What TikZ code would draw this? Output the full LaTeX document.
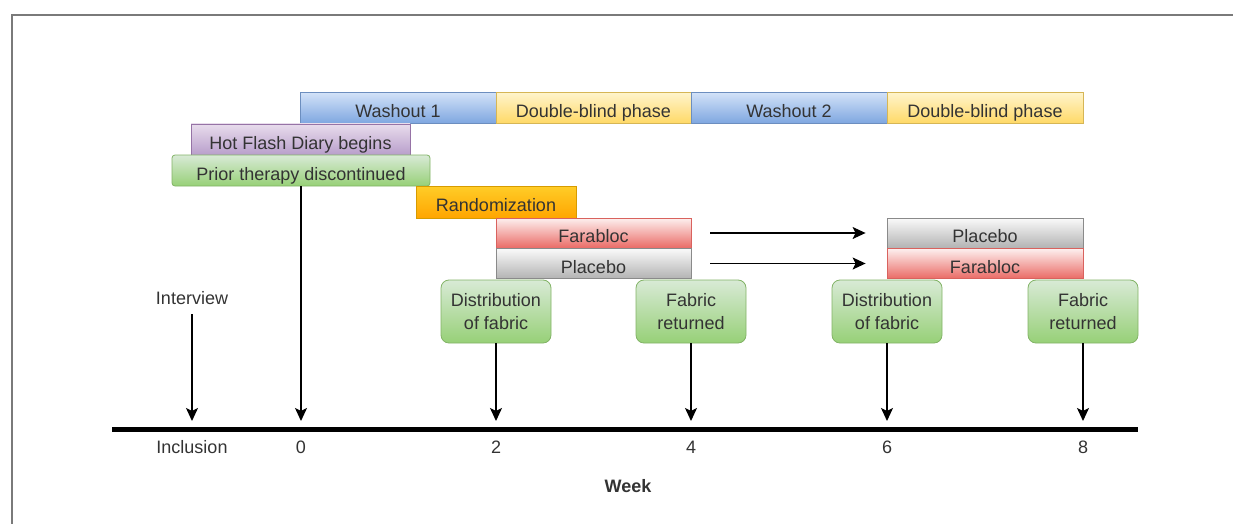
\documentclass[tikz,border=0pt]{standalone}
\usepackage{fontspec}
\setmainfont{Liberation Sans}
\usetikzlibrary{arrows.meta}

\definecolor{txt}{HTML}{333333}
\definecolor{frame}{HTML}{7A7A7A}
\definecolor{blueT}{HTML}{D2E2F8}\definecolor{blueB}{HTML}{7EA6E0}\definecolor{blueD}{HTML}{6C8EBF}
\definecolor{yelT}{HTML}{FFF4CC}\definecolor{yelB}{HTML}{FFD966}\definecolor{yelD}{HTML}{D6B656}
\definecolor{purT}{HTML}{E8DCEC}\definecolor{purB}{HTML}{B89ECB}\definecolor{purD}{HTML}{9673A6}
\definecolor{grnT}{HTML}{D8EAD6}\definecolor{grnB}{HTML}{97D077}\definecolor{grnD}{HTML}{82B366}
\definecolor{orgT}{HTML}{FFCD28}\definecolor{orgB}{HTML}{FFA500}\definecolor{orgD}{HTML}{D79B00}
\definecolor{redT}{HTML}{FDF0EF}\definecolor{redB}{HTML}{EA6B66}\definecolor{redD}{HTML}{D9625E}
\definecolor{gryT}{HTML}{FAFAFA}\definecolor{gryB}{HTML}{B3B3B3}\definecolor{gryD}{HTML}{8A8A8A}

\tikzset{
  bar/.style={draw, line width=0.8pt, inner sep=0pt, minimum height=31pt,
              text height=19pt, text depth=0pt},
  blueshade/.style={top color=blueT, bottom color=blueB, draw=blueD},
  yelshade/.style={top color=yelT, bottom color=yelB, draw=yelD},
  purshade/.style={top color=purT, bottom color=purB, draw=purD},
  grnshade/.style={top color=grnT, bottom color=grnB, draw=grnD},
  orgshade/.style={top color=orgT, bottom color=orgB, draw=orgD},
  redshade/.style={top color=redT, bottom color=redB, draw=redD},
  gryshade/.style={top color=gryT, bottom color=gryB, draw=gryD},
  fabricbox/.style={draw, line width=0.8pt, inner sep=0pt, grnshade, rounded corners=8pt,
                    minimum width=110pt, minimum height=63pt, align=center},
  tip/.style={-{Stealth[length=13pt,width=12pt,inset=3pt]}, line width=1.3pt, black}
}

\begin{document}
\begin{tikzpicture}[x=1pt, y=-1pt, font=\fontsize{18}{23}\selectfont, text=txt]
  \useasboundingbox (0,0) rectangle (1233,524);
  % frame of the screenshot
  \draw[frame, line width=2pt] (12,524) -- (12,15) -- (1233,15);

  % phases
  \node[bar, blueshade, minimum width=196pt] (wash1) at (398,108) {Washout 1};
  \node[bar, yelshade, minimum width=195pt] (dbp1) at (593.5,108) {Double-blind phase};
  \node[bar, blueshade, minimum width=196pt] (wash2) at (789,108) {Washout 2};
  \node[bar, yelshade, minimum width=196pt] (dbp2) at (985,108) {Double-blind phase};
  \node[bar, purshade, minimum width=219pt] (diary) at (300.5,139.5) {Hot Flash Diary begins};
  \node[bar, grnshade, rounded corners=3pt, minimum width=258pt] (prior) at (301,170.5) {Prior therapy discontinued};
  \node[bar, orgshade, minimum width=160pt, minimum height=32pt] (rand) at (496,202) {Randomization};

  % treatment arms
  \node[bar, redshade, minimum width=195pt, minimum height=30pt] (fara1) at (593.5,233) {Farabloc};
  \node[bar, gryshade, minimum width=195pt, minimum height=30pt] (plac1) at (593.5,263.5) {Placebo};
  \node[bar, gryshade, minimum width=196pt, minimum height=30pt] (plac2) at (985,233) {Placebo};
  \node[bar, redshade, minimum width=196pt, minimum height=30pt] (fara2) at (985,263.5) {Farabloc};
  \draw[tip] ([xshift=19pt]fara1.east) -- ([xshift=-21pt]plac2.west);
  \draw[tip] ([xshift=19pt]plac1.east) -- ([xshift=-21pt]fara2.west);

  % fabric events
  \node[fabricbox] (dist1) at (496,311.5) {Distribution\\of fabric};
  \node[fabricbox] (ret1) at (691,311.5) {Fabric\\returned};
  \node[fabricbox] (dist2) at (887,311.5) {Distribution\\of fabric};
  \node[fabricbox] (ret2) at (1083,311.5) {Fabric\\returned};
  \node (interview) at (192,298) {Interview};

  % time axis
  \draw[line width=5pt] (112,429) -- (1138,429);
  \foreach \n/\x/\lbl in {inc/192/Inclusion, w0/301/0, w2/496/2, w4/691/4, w6/887/6, w8/1083/8}{
    \coordinate (\n) at (\x,421);
    \node (lb\n) at (\x,447) {\lbl}; }
  \node[font=\fontsize{18}{23}\selectfont\bfseries] (week) at (628,486) {Week};

  \draw[tip] ([yshift=-6pt]interview.south) -- (inc);
  \draw[tip] (prior.south) -- (w0);
  \draw[tip] (dist1.south) -- (w2);
  \draw[tip] (ret1.south) -- (w4);
  \draw[tip] (dist2.south) -- (w6);
  \draw[tip] (ret2.south) -- (w8);
\end{tikzpicture}
\end{document}
